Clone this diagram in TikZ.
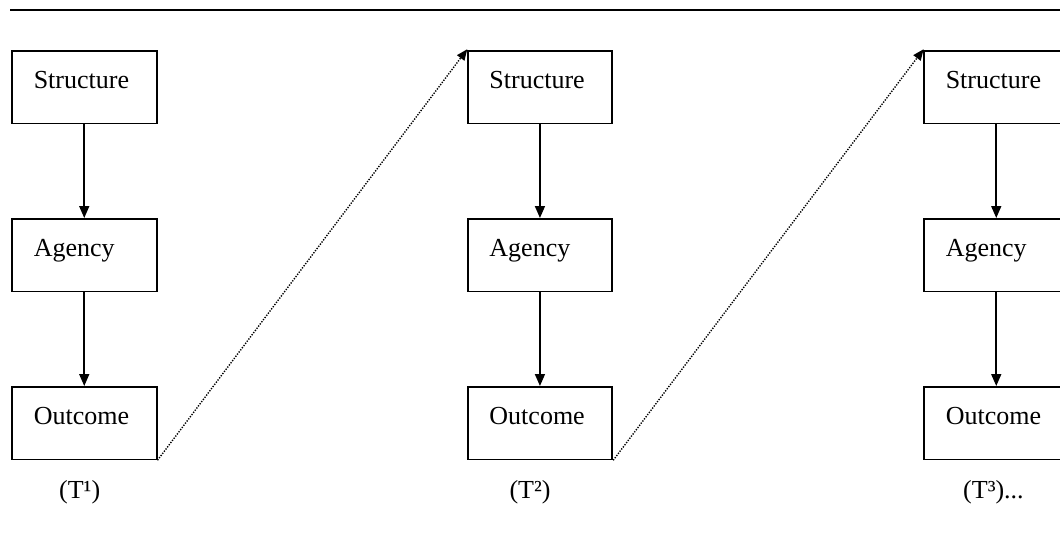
\documentclass[tikz,border=0pt]{standalone}
\usepackage{fontspec}
\setmainfont{Liberation Serif}
\usetikzlibrary{arrows.meta}
\begin{document}
\begin{tikzpicture}[x=1pt,y=-1pt,
  stagebox/.style={draw, line width=1.8pt, anchor=north west, minimum width=144.7pt,
    text width=101pt, inner xsep=21.8pt, inner ysep=0pt, align=left,
    text height=37.5pt, text depth=35pt, font=\fontsize{26}{30}\selectfont},
  tlabel/.style={anchor=base west, inner sep=0pt, font=\fontsize{26}{30}\selectfont},
  solidarrow/.style={line width=1.6pt, -{Triangle[length=12pt,width=10pt]}},
  dottedarrow/.style={line width=1.4pt, dash pattern=on 1.3pt off 1.4pt, -{Triangle[length=11pt,width=9pt]}, shorten >=-1pt}]
\useasboundingbox (0,0) rectangle (1060,533);
\coordinate (lineA) at (10,10.3);
\coordinate (lineB) at (1062,10.3);
\draw[line width=1.8pt] (lineA) -- (lineB);
\foreach \i/\x in {1/11, 2/466.7, 3/923}{
  \node[stagebox] (s\i) at (\x,50) {Structure};
  \node[stagebox] (a\i) at (\x,218) {Agency};
  \node[stagebox] (o\i) at (\x,386) {Outcome};
  \draw[solidarrow] (s\i) -- (a\i);
  \draw[solidarrow] (a\i) -- (o\i);
}
\node[tlabel] (t1) at (59,498) {(T¹)};
\node[tlabel] (t2) at (509.3,498) {(T²)};
\node[tlabel] (t3) at (963,498) {(T³)...};
\draw[dottedarrow] (o1.south east) -- (s2.north west);
\draw[dottedarrow] (o2.south east) -- (s3.north west);
\end{tikzpicture}
\end{document}
